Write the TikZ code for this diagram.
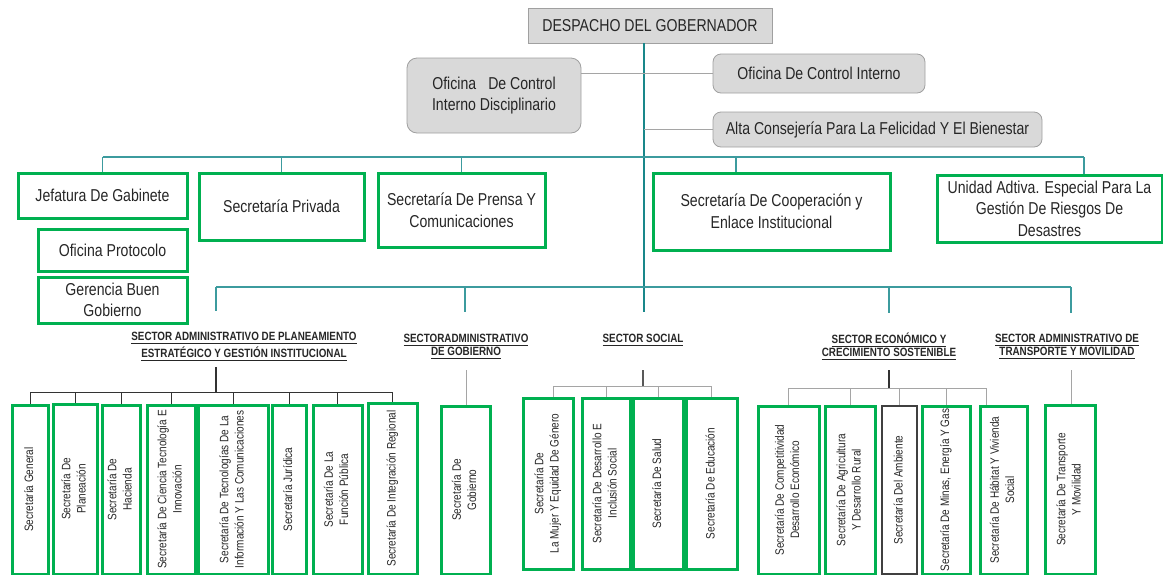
\documentclass[tikz,border=0pt]{standalone}
\usepackage{fontspec}
\setmainfont{Liberation Sans}[FakeStretch=0.82]
\usetikzlibrary{positioning}
\definecolor{tealtrunk}{RGB}{25,135,138}
\definecolor{tealbar}{RGB}{60,155,158}
\definecolor{boxgreen}{RGB}{0,176,80}
\definecolor{boxgray}{RGB}{217,217,217}
\definecolor{edgegray}{RGB}{160,160,160}
\definecolor{linegray}{RGB}{165,165,165}
\definecolor{inkgray}{RGB}{38,38,38}
\newcommand{\vtext}[1]{\rotatebox{90}{\begin{tabular}{@{}c@{}}#1\end{tabular}}}
\tikzset{
  topfont/.style={font=\fontsize{8.6}{10.8}\selectfont, text=inkgray},
  govbox/.style={draw=edgegray, fill=boxgray, topfont, align=center, inner sep=0pt},
  grayround/.style={govbox, rounded corners=4pt},
  greenbox/.style={draw=boxgreen, line width=1.5pt, topfont, align=center, inner sep=0pt},
  vbox/.style={draw=boxgreen, line width=1.5pt, font=\fontsize{6.1}{7.6}\selectfont, text=inkgray, inner sep=0pt},
  sectorhead/.style={font=\bfseries\fontsize{6}{6.6}\selectfont, text=inkgray, align=center, inner sep=0pt},
  trunkline/.style={draw=tealtrunk, line width=1.1pt},
  tealline/.style={draw=tealbar, line width=0.9pt},
  treeblack/.style={draw=black!80, line width=0.5pt},
  treegray/.style={draw=linegray, line width=0.5pt},
  headline/.style={draw=black!80, line width=0.9pt},
}

\begin{document}
\begin{tikzpicture}[x=0.5pt, y=-0.5pt]
  \useasboundingbox (0,0) rectangle (1163,574);

  % Governor and advisory offices
  \node[govbox, minimum width=122pt, minimum height=17.5pt] (despacho) at (650,25.5) {DESPACHO DEL GOBERNADOR};
  \node[grayround, rounded corners=5pt, minimum width=87pt, minimum height=37.5pt] (disciplinario) at (494,95.5) {Oficina\hspace{0.7em}De Control\\Interno Disciplinario};
  \node[grayround, minimum width=106pt, minimum height=19.5pt] (control) at (819,73.5) {Oficina De Control Interno};
  \node[grayround, minimum width=164.5pt, minimum height=17.5pt] (alta) at (877.5,129.5) {Alta Consejería Para La Felicidad Y El Bienestar};

  % Trunk and the two teal bars
  \coordinate (trunk) at (644,312);
  \coordinate (bar1) at (644,157);
  \coordinate (bar2) at (644,287);
  \draw[trunkline] (despacho.south -| trunk) -- (trunk);
  \draw[linegray, line width=0.6pt] (control.west) -- (control.west -| disciplinario.east);
  \draw[linegray, line width=0.6pt] (alta.west) -- (alta.west -| trunk);

  % First row of offices
  \node[greenbox, minimum width=84.5pt, minimum height=22.5pt] (jefatura) at (102.5,195.5) {Jefatura De Gabinete};
  \node[greenbox, minimum width=82.5pt, minimum height=33.5pt] (privada) at (281.5,206.5) {Secretaría Privada};
  \node[greenbox, minimum width=83.5pt, minimum height=37pt] (prensa) at (461.5,210) {Secretaría De Prensa Y\\Comunicaciones};
  \node[greenbox, minimum width=118.5pt, minimum height=38.5pt] (cooperacion) at (771.5,211.5) {Secretaría De Cooperación y\\Enlace Institucional};
  \node[greenbox, minimum width=112.5pt, minimum height=33.5pt] (unidad) at (1049.5,208.5) {Unidad Adtiva. Especial Para La\\Gestión De Riesgos De\\Desastres};
  \node[greenbox, minimum width=74.5pt, minimum height=21pt] (protocolo) at (112.5,250) {Oficina Protocolo};
  \node[greenbox, minimum width=74.5pt, minimum height=23pt] (gerencia) at (112.5,300) {Gerencia Buen\\Gobierno};

  \coordinate (coopertop) at ([xshift=-17.75pt]cooperacion.north);
  \coordinate (unitop) at ([xshift=17.25pt]unidad.north);
  \draw[tealline] (jefatura.north |- bar1) -- (unitop |- bar1);
  \draw[tealline] (jefatura.north |- bar1) -- (jefatura.north);
  \draw[tealline] (privada.north |- bar1) -- (privada.north);
  \draw[tealline] (prensa.north |- bar1) -- (prensa.north);
  \draw[tealline] (coopertop |- bar1) -- (coopertop);
  \draw[tealline] (unitop |- bar1) -- (unitop);

  % Sector bar
  \coordinate (plandrop) at (216,311);
  \coordinate (gobdrop) at (465,312);
  \coordinate (ecodrop) at (889,313);
  \coordinate (tradrop) at (1071,313);
  \draw[tealline] (plandrop |- bar2) -- (tradrop |- bar2);
  \draw[tealline] (plandrop |- bar2) -- (plandrop);
  \draw[tealline] (gobdrop |- bar2) -- (gobdrop);
  \draw[tealline] (ecodrop |- bar2) -- (ecodrop);
  \draw[tealline] (tradrop |- bar2) -- (tradrop);

  % Sector headings
  \node[sectorhead] (planhead) at (244,346.5) {\underline{SECTOR ADMINISTRATIVO DE PLANEAMIENTO}\\\underline{ESTRATÉGICO Y GESTIÓN INSTITUCIONAL}};
  \node[sectorhead] (gobhead) at (466,346.5) {\underline{SECTORADMINISTRATIVO}\\\underline{DE GOBIERNO}};
  \node[sectorhead] (sochead) at (643,340) {\underline{SECTOR SOCIAL}};
  \node[sectorhead] (ecohead) at (889,346.5) {\underline{SECTOR ECONÓMICO Y}\\\underline{CRECIMIENTO SOSTENIBLE}};
  \node[sectorhead] (trahead) at (1067,346.5) {\underline{SECTOR ADMINISTRATIVO DE}\\\underline{TRANSPORTE Y MOVILIDAD}};

  % Planeamiento secretariats
  \node[vbox, minimum width=18pt, minimum height=84.5pt] (sgeneral) at (30,489.5) {\vtext{Secretaría General}};
  \node[vbox, minimum width=22pt, minimum height=85pt] (splaneacion) at (75,489) {\vtext{Secretaría De\\Planeación}};
  \node[vbox, minimum width=19pt, minimum height=84.5pt] (shacienda) at (121,489.5) {\vtext{Secretaría De\\Hacienda}};
  \node[vbox, minimum width=24pt, minimum height=84.5pt] (sciencia) at (171,489.5) {\vtext{Secretaría De Ciencia Tecnología E\\Innovación}};
  \node[vbox, minimum width=35pt, minimum height=84.5pt] (stic) at (233,489.5) {\vtext{Secretaría De Tecnologías De La\\Información Y Las Comunicaciones}};
  \node[vbox, minimum width=17pt, minimum height=84.5pt] (sjuridica) at (289,489.5) {\vtext{Secretaría Jurídica}};
  \node[vbox, minimum width=24.5pt, minimum height=84.5pt] (sfuncion) at (337.5,489.5) {\vtext{Secretaría De La\\Función Pública}};
  \node[vbox, minimum width=24.5pt, minimum height=85.5pt] (sintegracion) at (392.5,488.5) {\vtext{Secretaría De Integración Regional}};

  \coordinate (plantop) at (216,367);
  \coordinate (planbar) at (216,392);
  \draw[headline] (plantop) -- (planbar);
  \draw[treeblack] (sgeneral.north |- planbar) -- (sintegracion.north |- planbar);
  \draw[treeblack] (sgeneral.north |- planbar) -- (sgeneral.north);
  \draw[treeblack] (splaneacion.north |- planbar) -- (splaneacion.north);
  \draw[treeblack] (shacienda.north |- planbar) -- (shacienda.north);
  \draw[treeblack] (sciencia.north |- planbar) -- (sciencia.north);
  \draw[treeblack] (stic.north |- planbar) -- (stic.north);
  \draw[treeblack] (sjuridica.north |- planbar) -- (sjuridica.north);
  \draw[treeblack] (sfuncion.north |- planbar) -- (sfuncion.north);
  \draw[treeblack] (sintegracion.north |- planbar) -- (sintegracion.north);

  % Gobierno
  \node[vbox, minimum width=24.5pt, minimum height=84pt] (sgobierno) at (465.5,490) {\vtext{Secretaría De\\Gobierno}};
  \coordinate (gobtop) at (466,370);
  \draw[treegray] (gobtop) -- (gobtop |- sgobierno.north);

  % Social
  \node[vbox, minimum width=25pt, minimum height=85.5pt] (smujer) at (548,483.5) {\vtext{Secretaría De\\La Mujer Y Equidad De Género}};
  \node[vbox, minimum width=24pt, minimum height=85.5pt] (sdesarrollo) at (606,483.5) {\vtext{Secretaría De Desarrollo E\\Inclusión Social}};
  \node[vbox, minimum width=25pt, minimum height=85.5pt] (ssalud) at (658,483.5) {\vtext{Secretaría De Salud}};
  \node[vbox, minimum width=25.5pt, minimum height=85.5pt] (seducacion) at (711.5,483.5) {\vtext{Secretaría De Educación}};

  \coordinate (soctop) at (643,370);
  \coordinate (socbar) at (643,386);
  \coordinate (mujtop) at ([xshift=2.5pt]smujer.north);
  \draw[headline, black!65] (soctop) -- (socbar);
  \draw[treegray] (mujtop |- socbar) -- (seducacion.north |- socbar);
  \draw[treegray] (mujtop |- socbar) -- (mujtop);
  \draw[treegray] (sdesarrollo.north |- socbar) -- (sdesarrollo.north);
  \draw[treegray] (ssalud.north |- socbar) -- (ssalud.north);
  \draw[treegray] (seducacion.north |- socbar) -- (seducacion.north);

  % Economico
  \node[vbox, minimum width=30.5pt, minimum height=84pt] (scompetitividad) at (788.5,490) {\vtext{Secretaría De Competitividad\\Desarrollo Económico}};
  \node[vbox, minimum width=25pt, minimum height=84pt] (sagricultura) at (850,490) {\vtext{Secretaría De Agricultura\\Y Desarrollo Rural}};
  \node[vbox, draw=black!75, line width=0.6pt, minimum width=17.5pt, minimum height=84pt] (sambiente) at (899.5,490) {\vtext{Secretaría Del Ambiente}};
  \node[vbox, minimum width=24pt, minimum height=84pt] (sminas) at (946,490) {\vtext{Secretaría De Minas, Energía Y Gas}};
  \node[vbox, minimum width=23.5pt, minimum height=84pt] (shabitat) at (1003.5,490) {\vtext{Secretaría De Hábitat Y Vivienda\\Social}};

  \coordinate (ecotop) at (889,370);
  \coordinate (ecobar) at (889,388);
  \coordinate (habtop) at ([xshift=-8.5pt]shabitat.north);
  \draw[headline] (ecotop) -- (ecobar);
  \draw[treegray] (scompetitividad.north |- ecobar) -- (habtop |- ecobar);
  \draw[treegray] (scompetitividad.north |- ecobar) -- (scompetitividad.north);
  \draw[treegray] (sagricultura.north |- ecobar) -- (sagricultura.north);
  \draw[treegray] (sambiente.north |- ecobar) -- (sambiente.north);
  \draw[treegray] (sminas.north |- ecobar) -- (sminas.north);
  \draw[treegray] (habtop |- ecobar) -- (habtop);

  % Transporte
  \node[vbox, minimum width=25pt, minimum height=84.5pt] (stransporte) at (1070,489.5) {\vtext{Secretaría De Transporte\\Y Movilidad}};
  \coordinate (tratop) at (1071,370);
  \draw[treegray] (tratop) -- (tratop |- stransporte.north);
\end{tikzpicture}
\end{document}
